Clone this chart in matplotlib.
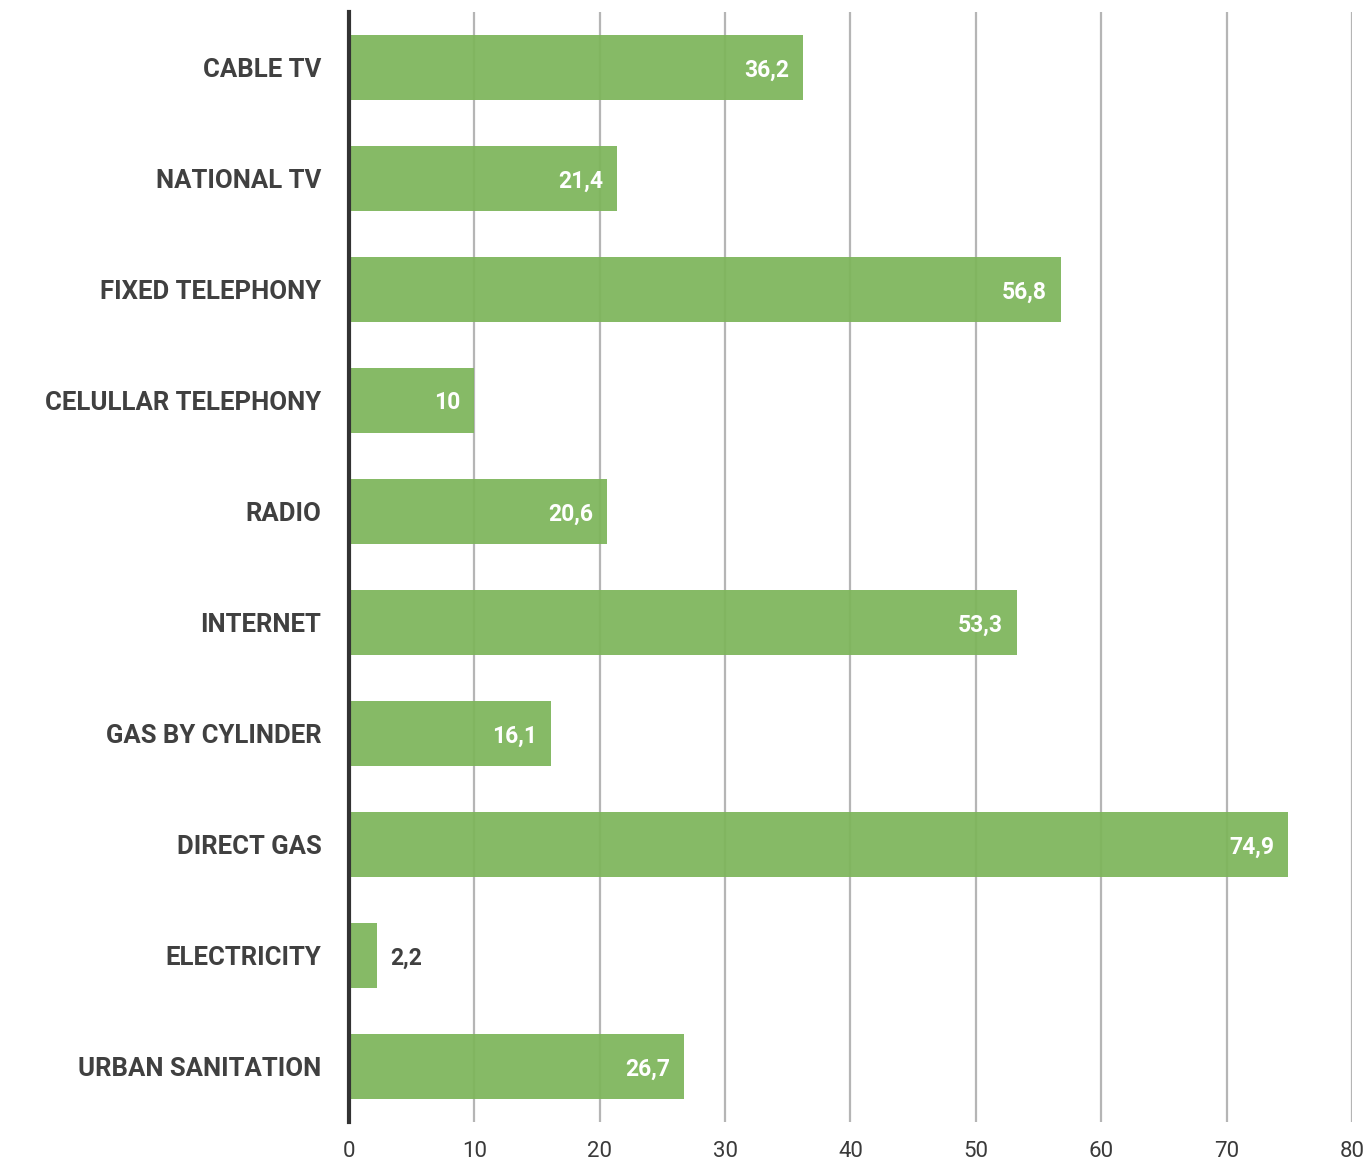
import matplotlib.pyplot as plt

# Servicios y porcentajes
categorias = ["CABLE TV", "NATIONAL TV", "FIXED TELEPHONY", "CELULLAR TELEPHONY",
              "RADIO", "INTERNET", "GAS BY CYLINDER", "DIRECT GAS",
              "ELECTRICITY", "URBAN SANITATION"]
valores = [36.2, 21.4, 56.8, 10, 20.6, 53.3, 16.1, 74.9, 2.2, 26.7]
ticks_x = [0, 10, 20, 30, 40, 50, 60, 70, 80]

verde = "#7db55a"
texto = "#404040"

plt.rcParams['font.family'] = ['Roboto', 'DejaVu Sans']

fig = plt.figure(figsize=(13.71, 11.71), dpi=100)
ax = fig.add_axes([0.2546, 0.0418, 0.7315, 0.948])

pos = list(range(len(categorias)))
ax.barh(pos, valores, height=0.58, color=verde, alpha=0.93, zorder=3)

# Etiquetas de valor: dentro de la barra en blanco, fuera si no cabe
for p, v in zip(pos, valores):
    etiqueta = ("%g" % v).replace(".", ",")
    if v > 5:
        ax.annotate(etiqueta, (v, p), xytext=(-14, 0), textcoords="offset pixels",
                    ha="right", va="center_baseline", color="white", fontsize=16.5,
                    fontweight="bold", zorder=4)
    else:
        ax.annotate(etiqueta, (v, p), xytext=(14, 0), textcoords="offset pixels",
                    ha="left", va="center_baseline", color=texto, fontsize=16.5,
                    fontweight="bold", zorder=4)

ax.set_xlim(0, 80)
ax.set_ylim(9.5, -0.5)
ax.set_xticks(ticks_x)
ax.set_xticklabels([str(t) for t in ticks_x], fontsize=16, color="#3a3a3a")
ax.set_yticks(pos)
ax.set_yticklabels(categorias, fontsize=18.5, color=texto, fontweight="bold")
ax.tick_params(axis="both", length=0)
ax.tick_params(axis="x", pad=14)
ax.tick_params(axis="y", pad=20)

ax.grid(axis="x", color="#b5b5b5", linewidth=1.6, zorder=1)
for lado in ["top", "right", "bottom"]:
    ax.spines[lado].set_visible(False)
ax.spines["left"].set_color("#333333")
ax.spines["left"].set_linewidth(3)
ax.spines["left"].set_zorder(5)

fig.savefig("out.png", dpi=100)
